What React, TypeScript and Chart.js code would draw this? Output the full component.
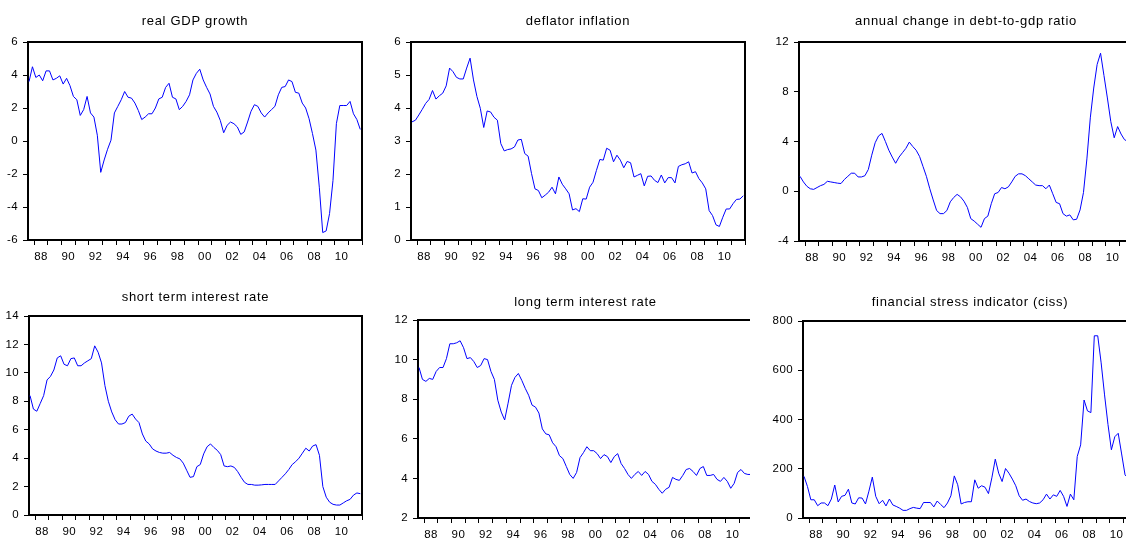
import React, { useEffect, useRef } from "react";
import { Chart, registerables } from "chart.js";

Chart.register(...registerables);

// Quarterly sample: 1987Q3 .. 2011Q4
const START_YEAR = 1987;
const START_QUARTER = 3;

// Year labels on the time axis (every year gets a tick, even years get a label)
const axisYears = [
  1988, 1989, 1990, 1991, 1992, 1993, 1994, 1995, 1996, 1997, 1998, 1999,
  2000, 2001, 2002, 2003, 2004, 2005, 2006, 2007, 2008, 2009, 2010, 2011,
];

const realGdpGrowth = [
  3.6, 4.5, 3.85, 4.0, 3.65, 4.25, 4.25, 3.7, 3.8, 3.95,
  3.45, 3.8, 3.35, 2.7, 2.5, 1.55, 1.9, 2.7, 1.7, 1.45,
  0.35, -1.9, -1.15, -0.5, 0.05, 1.7, 2.1, 2.5, 3.0, 2.65,
  2.6, 2.3, 1.85, 1.3, 1.45, 1.65, 1.65, 2.0, 2.55, 2.65,
  3.25, 3.5, 2.65, 2.55, 1.9, 2.1, 2.4, 2.8, 3.7, 4.1,
  4.35, 3.7, 3.25, 2.85, 2.1, 1.75, 1.25, 0.5, 0.95, 1.15,
  1.05, 0.85, 0.4, 0.55, 1.15, 1.8, 2.2, 2.1, 1.7, 1.45,
  1.7, 1.9, 2.1, 2.8, 3.25, 3.3, 3.7, 3.6, 2.95, 2.9,
  2.3, 2.0, 1.35, 0.45, -0.55, -2.8, -5.55, -5.45, -4.4, -2.4,
  1.05, 2.15, 2.15, 2.15, 2.4, 1.65, 1.3, 0.7,
];

const deflatorInflation = [
  3.58, 3.63, 3.79, 3.96, 4.14, 4.26, 4.53, 4.27, 4.37, 4.45,
  4.67, 5.21, 5.1, 4.93, 4.88, 4.88, 5.21, 5.51, 4.85, 4.35,
  3.99, 3.41, 3.91, 3.88, 3.72, 3.63, 2.92, 2.7, 2.74, 2.76,
  2.82, 3.03, 3.05, 2.62, 2.54, 2.01, 1.55, 1.5, 1.28, 1.36,
  1.45, 1.6, 1.4, 1.91, 1.69, 1.55, 1.4, 0.91, 0.95, 0.86,
  1.25, 1.24, 1.6, 1.75, 2.11, 2.44, 2.42, 2.78, 2.72, 2.37,
  2.57, 2.42, 2.19, 2.38, 2.34, 1.91, 1.96, 2.01, 1.64, 1.93,
  1.94, 1.81, 1.74, 1.97, 1.73, 1.89, 1.89, 1.73, 2.23, 2.28,
  2.31, 2.37, 2.03, 2.07, 1.86, 1.73, 1.55, 0.89, 0.74, 0.46,
  0.41, 0.69, 0.94, 0.94, 1.1, 1.23, 1.24, 1.34,
];

const debtRatioChange = [
  1.2, 0.75, 0.4, 0.2, 0.15, 0.3, 0.45, 0.55, 0.8, 0.75,
  0.7, 0.65, 0.62, 0.95, 1.2, 1.45, 1.45, 1.15, 1.15, 1.25,
  1.75, 2.9, 3.9, 4.45, 4.65, 4.0, 3.3, 2.75, 2.25, 2.75,
  3.1, 3.45, 3.95, 3.6, 3.3, 2.8, 2.0, 1.2, 0.2, -0.7,
  -1.55, -1.8, -1.8, -1.55, -0.85, -0.5, -0.25, -0.45, -0.8, -1.3,
  -2.2, -2.4, -2.65, -2.9, -2.2, -2.0, -1.0, -0.2, -0.1, 0.3,
  0.2, 0.35, 0.75, 1.2, 1.4, 1.4, 1.25, 1.0, 0.75, 0.5,
  0.45, 0.45, 0.2, 0.5, -0.2, -0.9, -1.0, -1.8, -2.0, -1.9,
  -2.3, -2.25, -1.5, -0.1, 2.6, 5.9, 8.3, 10.2, 11.1, 9.3,
  7.5, 5.6, 4.3, 5.2, 4.6, 4.15, 4.0, 3.9,
];

const shortRate = [
  8.4, 7.45, 7.3, 7.85, 8.4, 9.5, 9.75, 10.2, 11.05, 11.2,
  10.6, 10.5, 11.0, 11.05, 10.5, 10.5, 10.7, 10.85, 11.0, 11.9,
  11.45, 10.7, 9.1, 8.0, 7.25, 6.7, 6.4, 6.4, 6.5, 6.95,
  7.1, 6.75, 6.5, 5.7, 5.2, 5.0, 4.65, 4.5, 4.4, 4.35,
  4.35, 4.4, 4.2, 4.05, 3.95, 3.65, 3.15, 2.65, 2.7, 3.4,
  3.55, 4.3, 4.8, 5.0, 4.75, 4.55, 4.25, 3.45, 3.4, 3.45,
  3.35, 3.05, 2.65, 2.3, 2.15, 2.15, 2.1, 2.1, 2.12, 2.15,
  2.15, 2.15, 2.15, 2.4, 2.65, 2.9, 3.2, 3.55, 3.75, 4.0,
  4.35, 4.7, 4.5, 4.85, 4.95, 4.2, 2.0, 1.25, 0.9, 0.75,
  0.7, 0.7, 0.85, 1.0, 1.1, 1.4, 1.55, 1.5,
];

const longRate = [
  9.6, 9.0, 8.9, 9.05, 9.0, 9.4, 9.6, 9.6, 10.05, 10.8,
  10.8, 10.85, 10.95, 10.6, 10.05, 10.1, 9.9, 9.6, 9.7, 10.05,
  10.0, 9.4, 9.0, 7.95, 7.35, 6.95, 7.8, 8.7, 9.1, 9.3,
  8.95, 8.55, 8.2, 7.7, 7.6, 7.3, 6.5, 6.25, 6.2, 5.8,
  5.6, 5.15, 5.0, 4.6, 4.2, 4.0, 4.3, 5.05, 5.3, 5.6,
  5.4, 5.4, 5.25, 5.0, 5.2, 5.1, 4.8, 5.1, 5.25, 4.75,
  4.5, 4.2, 4.0, 4.2, 4.35, 4.15, 4.35, 4.2, 3.85, 3.7,
  3.45, 3.25, 3.45, 3.55, 4.05, 3.95, 3.9, 4.15, 4.45, 4.5,
  4.35, 4.15, 4.5, 4.6, 4.15, 4.15, 4.2, 3.95, 3.85, 4.05,
  3.85, 3.5, 3.75, 4.3, 4.45, 4.25, 4.2, 4.2,
];

const stressIndicator = [
  169, 128, 74, 74, 50, 61, 61, 50, 77, 134,
  65, 88, 92, 117, 61, 57, 82, 81, 57, 109,
  166, 88, 58, 72, 49, 77, 53, 47, 40, 31,
  31, 38, 43, 40, 38, 63, 63, 63, 45, 69,
  55, 42, 61, 90, 171, 135, 57, 63, 66, 66,
  155, 121, 131, 125, 99, 163, 239, 182, 148, 201,
  182, 158, 131, 90, 72, 77, 67, 61, 58, 61,
  74, 97, 77, 94, 88, 112, 88, 47, 97, 74,
  250, 297, 479, 435, 428, 740, 740, 630, 500, 380,
  277, 330, 344, 260, 175, 160, 190, 220,
];

const FONT = "'Liberation Sans', Arial, sans-serif";
const X_MIN = 1987.55;
const X_MAX = 2012.0;

type Box = { left: number; top: number; right: number; bottom: number };
type PanelSpec = {
  title: string;
  values: number[];
  yMin: number;
  yMax: number;
  yStep: number;
  box: Box;
  titleY: number;
  clipRight?: number;
};

const panels: PanelSpec[] = [
  { title: "real GDP growth", values: realGdpGrowth, yMin: -6, yMax: 6, yStep: 2,
    box: { left: 28, top: 42, right: 362, bottom: 240 }, titleY: 21 },
  { title: "deflator inflation", values: deflatorInflation, yMin: 0, yMax: 6, yStep: 1,
    box: { left: 411, top: 42, right: 745, bottom: 240 }, titleY: 21 },
  { title: "annual change in debt-to-gdp ratio", values: debtRatioChange, yMin: -4, yMax: 12, yStep: 4,
    box: { left: 799, top: 42, right: 1133, bottom: 241 }, titleY: 21 },
  { title: "short term interest rate", values: shortRate, yMin: 0, yMax: 14, yStep: 2,
    box: { left: 29, top: 316, right: 362, bottom: 515 }, titleY: 297 },
  { title: "long term interest rate", values: longRate, yMin: 2, yMax: 12, yStep: 2,
    box: { left: 418, top: 320, right: 753, bottom: 518 }, titleY: 302, clipRight: 750 },
  { title: "financial stress indicator (ciss)", values: stressIndicator, yMin: 0, yMax: 800, yStep: 200,
    box: { left: 803, top: 321, right: 1137, bottom: 518 }, titleY: 302 },
];

// Space around the plot area inside each canvas
const PAD_L = 46;
const PAD_T = 34;
const PAD_R = 6;
const PAD_B = 26;

function quarterPosition(i: number): number {
  // centre of the quarter on a continuous year scale
  return START_YEAR + (START_QUARTER - 1) / 4 + i * 0.25 + 0.125;
}

const framePlugin = {
  id: "frame",
  afterDraw(chart: any) {
    const { ctx, chartArea: a } = chart;
    ctx.save();
    ctx.strokeStyle = "#000";
    ctx.lineWidth = 2;
    ctx.beginPath();
    ctx.moveTo(a.left, a.top);
    ctx.lineTo(a.right, a.top);
    ctx.lineTo(a.right, a.bottom);
    ctx.stroke();
    ctx.restore();
  },
};

// slightly wider glyph spacing for all axis text
const spacingPlugin = {
  id: "textSpacing",
  beforeDraw(chart: any) {
    chart.ctx.letterSpacing = "0.4px";
  },
  afterDraw(chart: any) {
    chart.ctx.letterSpacing = "0px";
  },
};

const titlePlugin = {
  id: "panelTitle",
  afterDraw(chart: any, _args: any, opts: any) {
    const { ctx, chartArea: a } = chart;
    ctx.save();
    ctx.font = `13px ${FONT}`;
    ctx.fillStyle = "#000";
    ctx.textAlign = "center";
    ctx.textBaseline = "middle";
    ctx.letterSpacing = "0.7px";
    ctx.fillText(opts.text, (a.left + a.right) / 2, opts.y);
    ctx.restore();
  },
};

function Panel({ spec }: { spec: PanelSpec }) {
  const ref = useRef<HTMLCanvasElement | null>(null);
  const { box } = spec;
  const canvasLeft = box.left - PAD_L;
  const canvasTop = box.top - PAD_T;
  const width = box.right - box.left + PAD_L + PAD_R;
  const height = box.bottom - box.top + PAD_T + PAD_B;
  const visibleWidth = spec.clipRight ? Math.min(width, spec.clipRight - canvasLeft) : width;

  useEffect(() => {
    if (!ref.current) return;
    const points = spec.values.map((v, i) => ({ x: quarterPosition(i), y: v }));
    const yTicks: number[] = [];
    for (let v = spec.yMin; v <= spec.yMax + 1e-9; v += spec.yStep) yTicks.push(v);

    const chart = new Chart(ref.current, {
      type: "line",
      data: {
        datasets: [
          {
            data: points,
            borderColor: "#0000ff",
            borderWidth: 1,
            pointRadius: 0,
            tension: 0,
            fill: false,
          },
        ],
      },
      options: {
        responsive: false,
        animation: false,
        devicePixelRatio: 1,
        layout: { padding: { left: 0, right: PAD_R, top: PAD_T, bottom: 0 } },
        plugins: {
          legend: { display: false },
          tooltip: { enabled: false },
          title: { display: false },
          panelTitle: { text: spec.title, y: spec.titleY - canvasTop },
        } as any,
        scales: {
          x: {
            type: "linear",
            min: X_MIN,
            max: X_MAX,
            afterBuildTicks: (scale: any) => {
              scale.ticks = axisYears.map((y) => ({ value: y + 0.5 }));
            },
            afterFit: (scale: any) => {
              scale.height = PAD_B;
            },
            grid: {
              offset: true,
              drawOnChartArea: false,
              drawTicks: true,
              tickLength: 5,
              color: "#000",
              lineWidth: 1,
            },
            border: { display: true, color: "#000", width: 2 },
            ticks: {
              autoSkip: false,
              maxRotation: 0,
              minRotation: 0,
              padding: 5,
              color: "#000",
              font: { family: FONT, size: 11.5 },
              callback: (value: any) => {
                const year = Math.floor(Number(value));
                return year % 2 === 0 ? String(year % 100).padStart(2, "0") : "";
              },
            },
          },
          y: {
            type: "linear",
            min: spec.yMin,
            max: spec.yMax,
            afterBuildTicks: (scale: any) => {
              scale.ticks = yTicks.map((v) => ({ value: v }));
            },
            afterFit: (scale: any) => {
              scale.width = PAD_L;
            },
            grid: {
              drawOnChartArea: false,
              drawTicks: true,
              tickLength: 5,
              color: "#000",
              lineWidth: 1,
            },
            border: { display: true, color: "#000", width: 2 },
            ticks: {
              padding: 5,
              color: "#000",
              font: { family: FONT, size: 11.5 },
              callback: (value: any) => String(value),
            },
          },
        },
      },
      plugins: [spacingPlugin, framePlugin, titlePlugin],
    });
    return () => chart.destroy();
  }, [spec]);

  return (
    <div
      style={{
        position: "absolute",
        left: canvasLeft,
        top: canvasTop,
        width: visibleWidth,
        height,
        overflow: "hidden",
      }}
    >
      <canvas ref={ref} width={width} height={height} style={{ display: "block", width, height }} />
    </div>
  );
}

export default function App() {
  return (
    <div
      style={{
        position: "fixed",
        left: 0,
        top: 0,
        width: 1126,
        height: 540,
        overflow: "hidden",
        background: "#fff",
      }}
    >
      {panels.map((p) => (
        <Panel key={p.title} spec={p} />
      ))}
    </div>
  );
}
